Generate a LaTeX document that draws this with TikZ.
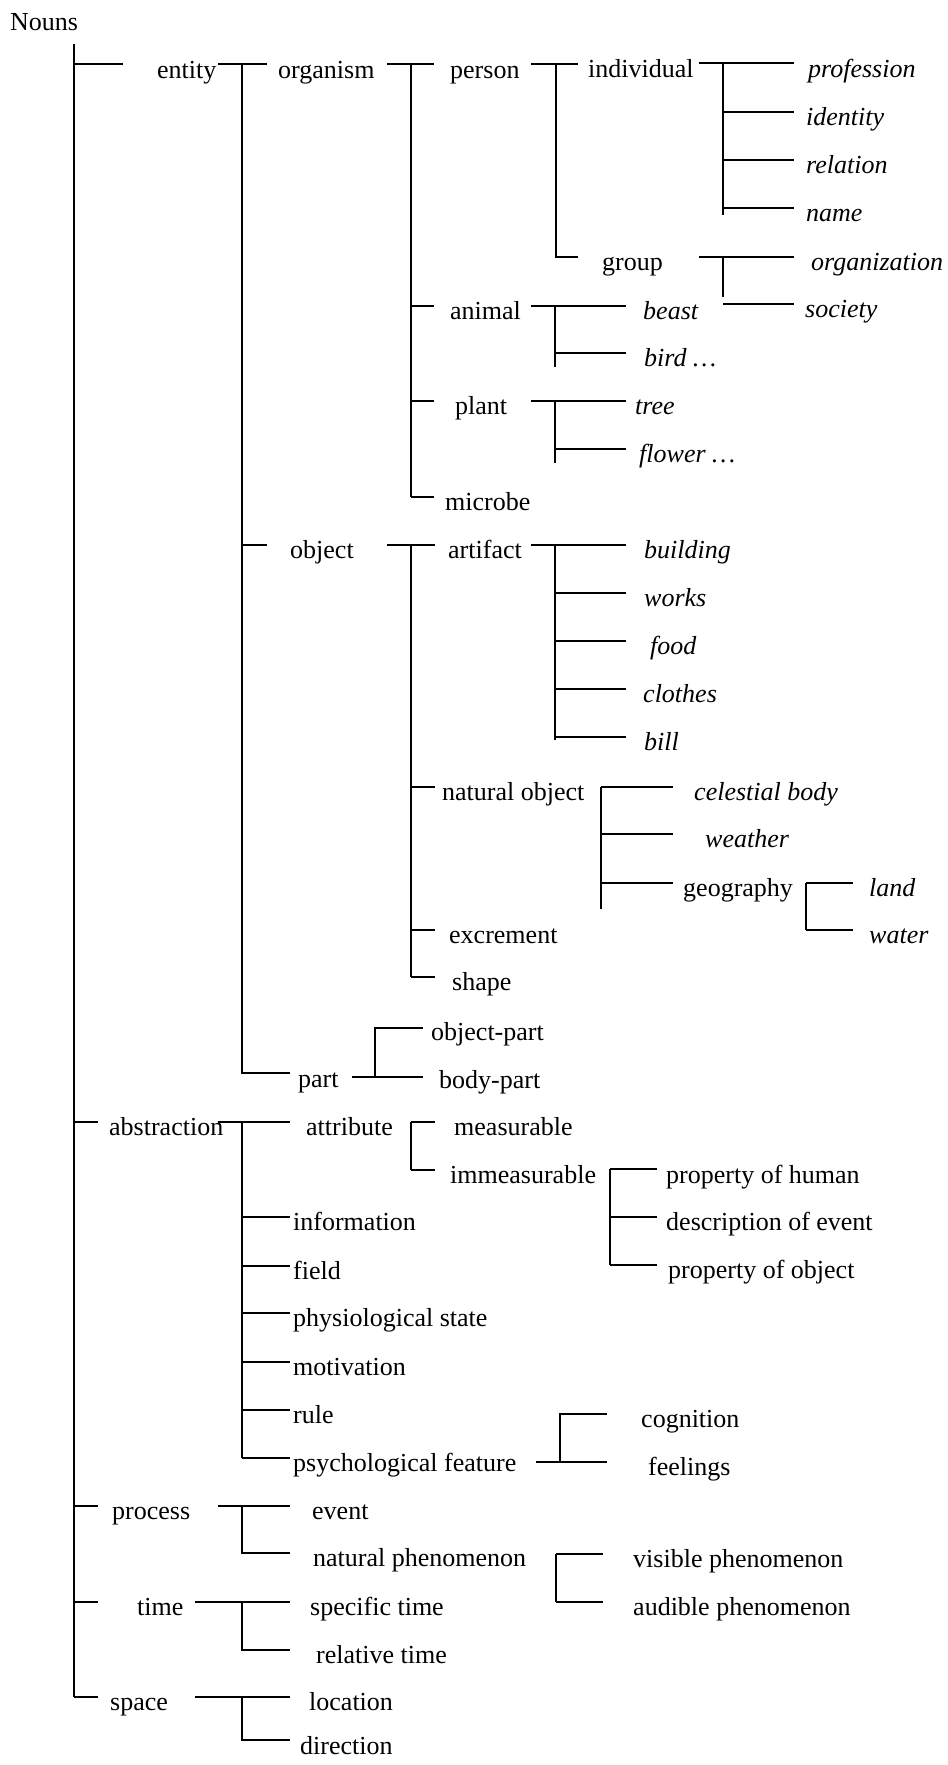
\documentclass[tikz,border=0pt]{standalone}
\usepackage{fontspec}
\setmainfont{Liberation Serif}
\begin{document}
\begin{tikzpicture}[x=1pt,y=-1pt,
  lbl/.style={anchor=base west,inner sep=0pt,font=\fontsize{26}{30}\selectfont},
  itl/.style={lbl,font=\fontsize{26}{30}\selectfont\itshape},
  br/.style={line width=1.4pt,line cap=butt}]
\useasboundingbox (0,0) rectangle (948,1765);

% ---- labels ----
\node[lbl] (nouns) at (10,30) {Nouns};
\node[lbl] (entity) at (157,78) {entity};
\node[lbl] (organism) at (278,78) {organism};
\node[lbl] (person) at (450,78) {person};
\node[lbl] (individual) at (588,77) {individual};
\node[itl] (profession) at (808,77) {profession};
\node[itl] (identity) at (806,125) {identity};
\node[itl] (relation) at (806,173) {relation};
\node[itl] (name) at (806,221) {name};
\node[lbl] (group) at (602,270) {group};
\node[itl] (organization) at (811,270) {organization};
\node[itl] (society) at (805,317) {society};
\node[lbl] (animal) at (450,319) {animal};
\node[itl] (beast) at (643,319) {beast};
\node[itl] (bird) at (644,366) {bird \ldots};
\node[lbl] (plant) at (455,414) {plant};
\node[itl] (tree) at (635,414) {tree};
\node[itl] (flower) at (639,462) {flower \ldots};
\node[lbl] (microbe) at (445,510) {microbe};
\node[lbl] (object) at (290,558) {object};
\node[lbl] (artifact) at (448,558) {artifact};
\node[itl] (building) at (644,558) {building};
\node[itl] (works) at (644,606) {works};
\node[itl] (food) at (650,654) {food};
\node[itl] (clothes) at (643,702) {clothes};
\node[itl] (bill) at (644,750) {bill};
\node[lbl] (natobj) at (442,800) {natural object};
\node[itl] (celestial) at (694,800) {celestial body};
\node[itl] (weather) at (705,847) {weather};
\node[lbl] (geography) at (683,896) {geography};
\node[itl] (land) at (869,896) {land};
\node[itl] (water) at (869,943) {water};
\node[lbl] (excrement) at (449,943) {excrement};
\node[lbl] (shape) at (452,990) {shape};
\node[lbl] (objpart) at (431,1040) {object-part};
\node[lbl] (part) at (298,1087) {part};
\node[lbl] (bodypart) at (439,1088) {body-part};
\node[lbl] (abstraction) at (109,1135) {abstraction};
\node[lbl] (attribute) at (306,1135) {attribute};
\node[lbl] (measurable) at (454,1135) {measurable};
\node[lbl] (immeasurable) at (450,1183) {immeasurable};
\node[lbl] (prophuman) at (666,1183) {property of human};
\node[lbl] (descevent) at (666,1230) {description of event};
\node[lbl] (propobject) at (668,1278) {property of object};
\node[lbl] (information) at (293,1230) {information};
\node[lbl] (field) at (293,1279) {field};
\node[lbl] (physio) at (293,1326) {physiological state};
\node[lbl] (motivation) at (293,1375) {motivation};
\node[lbl] (rule) at (293,1423) {rule};
\node[lbl] (psych) at (293,1471) {psychological feature};
\node[lbl] (cognition) at (641,1427) {cognition};
\node[lbl] (feelings) at (648,1475) {feelings};
\node[lbl] (process) at (112,1519) {process};
\node[lbl] (event) at (312,1519) {event};
\node[lbl] (natphen) at (313,1566) {natural phenomenon};
\node[lbl] (visible) at (633,1567) {visible phenomenon};
\node[lbl] (audible) at (633,1615) {audible phenomenon};
\node[lbl] (time) at (137,1615) {time};
\node[lbl] (spectime) at (310,1615) {specific time};
\node[lbl] (reltime) at (316,1663) {relative time};
\node[lbl] (space) at (110,1710) {space};
\node[lbl] (location) at (309,1710) {location};
\node[lbl] (direction) at (300,1754) {direction};

% ---- root ----
\draw[br] (74,44) -- (74,1697);
\foreach \y/\e in {64/123,1122/98,1506/98,1602/98,1697/98} \draw[br] (74,\y) -- (\e,\y);

% ---- entity ----
\draw[br] (218,64) -- (267,64);
\draw[br] (242,64) -- (242,1073) -- (290,1073);
\draw[br] (242,545) -- (267,545);

% organism
\draw[br] (387,64) -- (434,64);
\draw[br] (411,64) -- (411,497);
\foreach \y in {306,401,497} \draw[br] (411,\y) -- (434,\y);

% person
\draw[br] (531,64) -- (578,64);
\draw[br] (556,64) -- (556,257) -- (578,257);

% individual
\draw[br] (699,63) -- (794,63);
\draw[br] (723,63) -- (723,215);
\foreach \y in {112,160,208} \draw[br] (723,\y) -- (794,\y);

% group
\draw[br] (699,257) -- (794,257);
\draw[br] (723,257) -- (723,297);
\draw[br] (723,304) -- (794,304);

% animal
\draw[br] (531,306) -- (626,306);
\draw[br] (555,306) -- (555,367);
\draw[br] (555,353) -- (626,353);

% plant
\draw[br] (531,401) -- (626,401);
\draw[br] (555,401) -- (555,463);
\draw[br] (555,449) -- (626,449);

% object
\draw[br] (387,545) -- (435,545);
\draw[br] (411,545) -- (411,977);
\foreach \y in {787,930,977} \draw[br] (411,\y) -- (435,\y);

% artifact
\draw[br] (531,545) -- (626,545);
\draw[br] (555,545) -- (555,740);
\foreach \y in {593,641,689,737} \draw[br] (555,\y) -- (626,\y);

% natural object
\draw[br] (601,787) -- (601,909);
\foreach \y in {787,834,883} \draw[br] (601,\y) -- (673,\y);

% geography
\draw[br] (806,883) -- (806,930);
\foreach \y in {883,930} \draw[br] (806,\y) -- (853,\y);

% part
\draw[br] (352,1077) -- (423,1077);
\draw[br] (423,1028) -- (375,1028) -- (375,1077);

% ---- abstraction ----
\draw[br] (218,1122) -- (290,1122);
\draw[br] (242,1122) -- (242,1458);
\foreach \y in {1217,1266,1313,1362,1410,1458} \draw[br] (242,\y) -- (290,\y);

% attribute
\draw[br] (411,1122) -- (411,1170);
\foreach \y in {1122,1170} \draw[br] (411,\y) -- (435,\y);

% immeasurable
\draw[br] (610,1169) -- (610,1265);
\foreach \y in {1169,1217,1265} \draw[br] (610,\y) -- (657,\y);

% psychological feature
\draw[br] (536,1462) -- (607,1462);
\draw[br] (607,1414) -- (560,1414) -- (560,1462);

% ---- process ----
\draw[br] (218,1506) -- (290,1506);
\draw[br] (242,1506) -- (242,1553) -- (290,1553);

% natural phenomenon
\draw[br] (556,1554) -- (556,1602);
\foreach \y in {1554,1602} \draw[br] (556,\y) -- (603,\y);

% ---- time ----
\draw[br] (195,1602) -- (290,1602);
\draw[br] (242,1602) -- (242,1650) -- (290,1650);

% ---- space ----
\draw[br] (195,1697) -- (290,1697);
\draw[br] (242,1697) -- (242,1740) -- (290,1740);
\end{tikzpicture}
\end{document}
